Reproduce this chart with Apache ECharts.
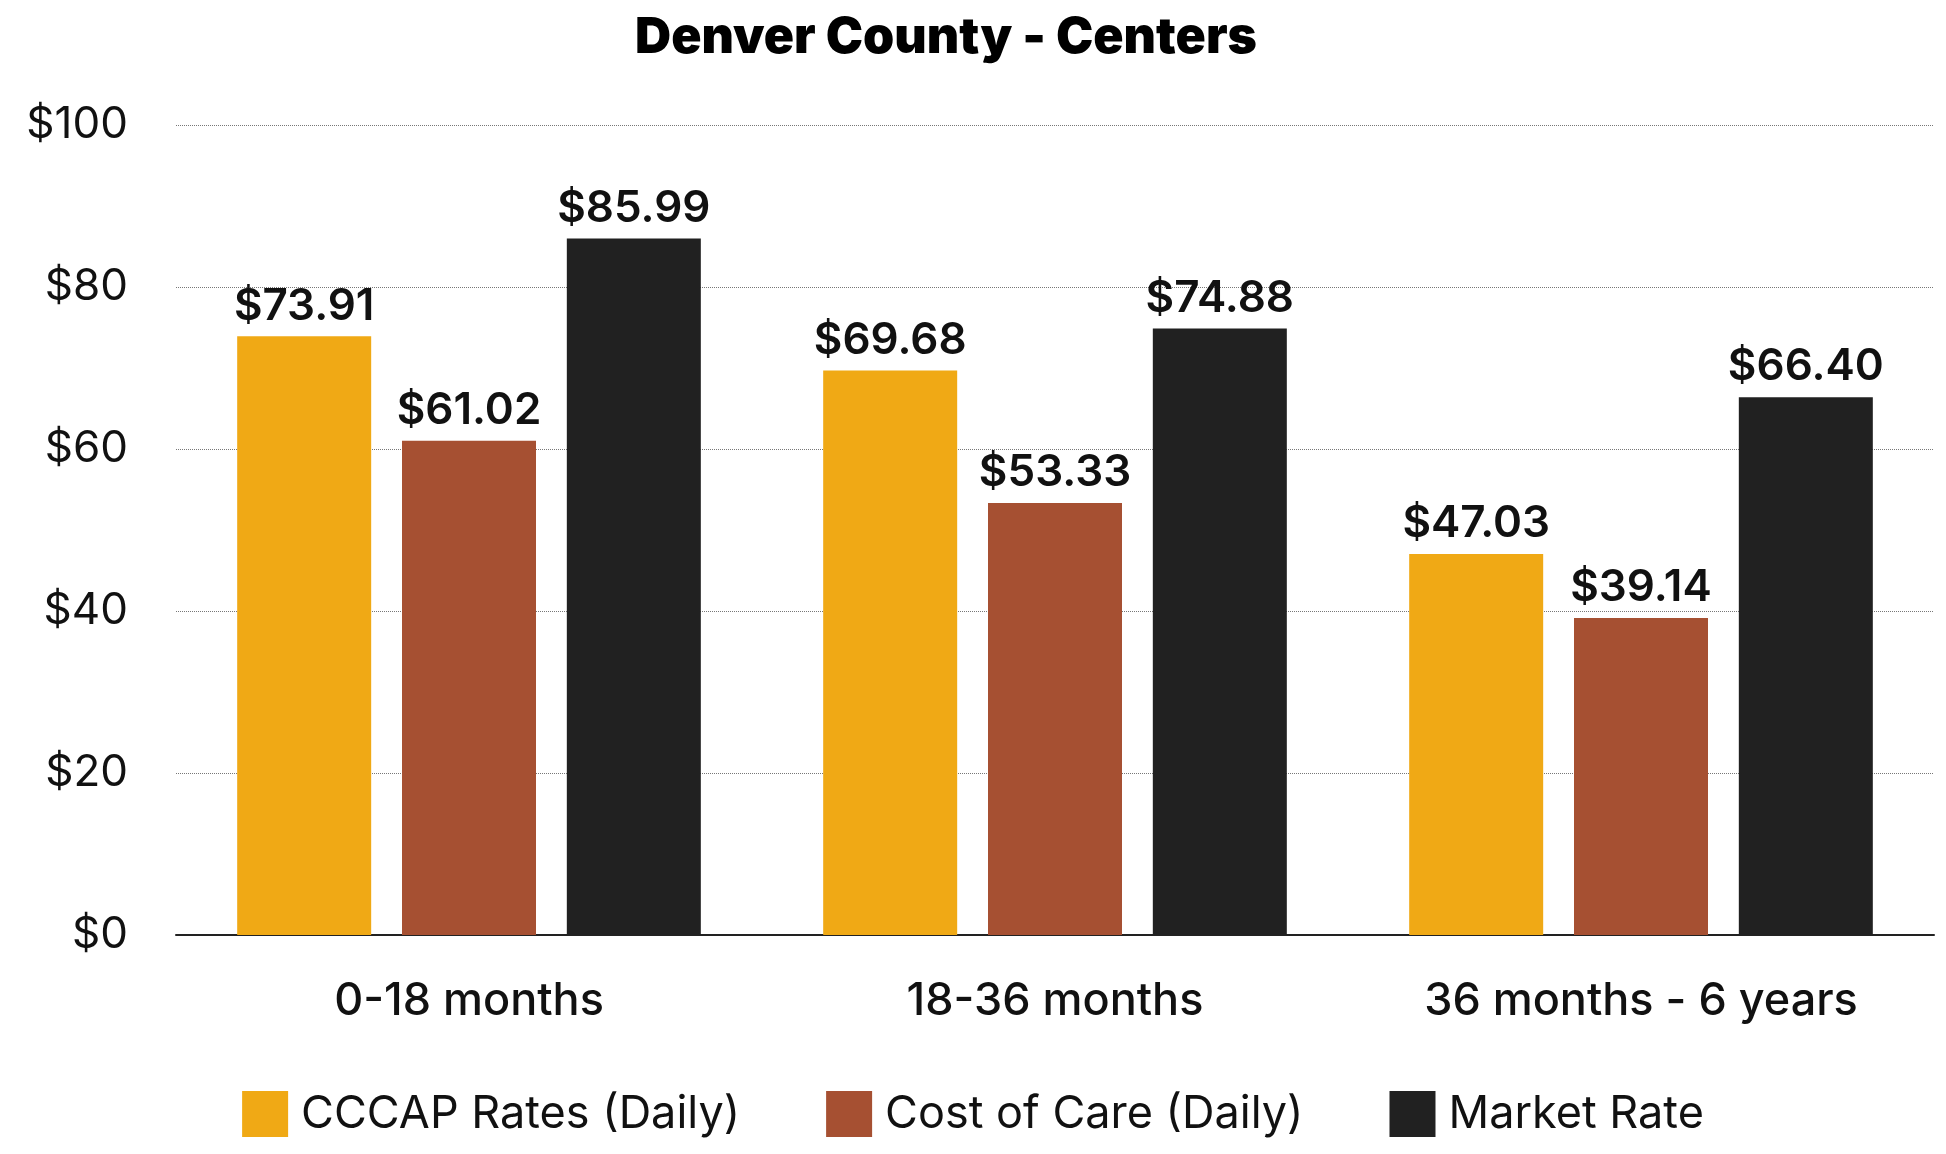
<!DOCTYPE html>
<html>
<head>
<meta charset="utf-8">
<script src="https://cdn.jsdelivr.net/npm/echarts@6/dist/echarts.min.js"></script>
<style>html,body{margin:0;padding:0;background:#fff}#chart{width:1946px;height:1154px}</style>
</head>
<body>
<div id="chart"></div>
<script>
const categories = ['0-18 months', '18-36 months', '36 months - 6 years'];
const cccapRates = [73.91, 69.68, 47.03];
const costOfCare = [61.02, 53.33, 39.14];
const marketRate = [85.99, 74.88, 66.40];
const seriesNames = ['CCCAP Rates (Daily)', 'Cost of Care (Daily)', 'Market Rate'];
const colors = ['#F0A915', '#A65032', '#212121'];

const chart = echarts.init(document.getElementById('chart'));
const font = 'Inter, Roboto, sans-serif';

function makeSeries(name, data, color) {
    return {
        name: name,
        type: 'bar',
        data: data,
        barWidth: 134,
        barGap: '23%',
        itemStyle: { color: color },
        label: {
            show: true,
            position: 'top',
            distance: 8,
            color: '#111',
            fontFamily: font,
            fontSize: 44,
            fontWeight: 600,
            formatter: p => '$' + p.value.toFixed(2)
        }
    };
}

chart.setOption({
    animation: false,
    color: colors,
    title: {
        text: 'Denver County - Centers',
        left: 941,
        top: 8,
        textAlign: 'center',
        textStyle: { fontFamily: font, fontSize: 50, fontWeight: 900, color: '#000' }
    },
    legend: {
        bottom: 12,
        left: 'center',
        itemWidth: 46,
        itemHeight: 46,
        itemGap: 86,
        icon: 'rect',
        textStyle: { fontFamily: font, fontSize: 45, color: '#111', padding: [0, 0, 0, 8] }
    },
    grid: { left: 176, right: 12, top: 125, bottom: 219 },
    xAxis: {
        type: 'category',
        data: categories,
        axisTick: { show: false },
        axisLine: { lineStyle: { color: '#222', width: 2 } },
        axisLabel: { fontFamily: font, fontSize: 45, fontWeight: 500, color: '#111', margin: 44 }
    },
    yAxis: {
        type: 'value',
        min: 0,
        max: 100,
        interval: 20,
        axisLabel: { fontFamily: font, fontSize: 44, color: '#111', margin: 48, formatter: v => '$' + v },
        splitLine: { lineStyle: { color: '#777', type: 'dotted', width: 1 } }
    },
    series: [
        makeSeries(seriesNames[0], cccapRates, colors[0]),
        makeSeries(seriesNames[1], costOfCare, colors[1]),
        makeSeries(seriesNames[2], marketRate, colors[2])
    ]
});
</script>
</body>
</html>
